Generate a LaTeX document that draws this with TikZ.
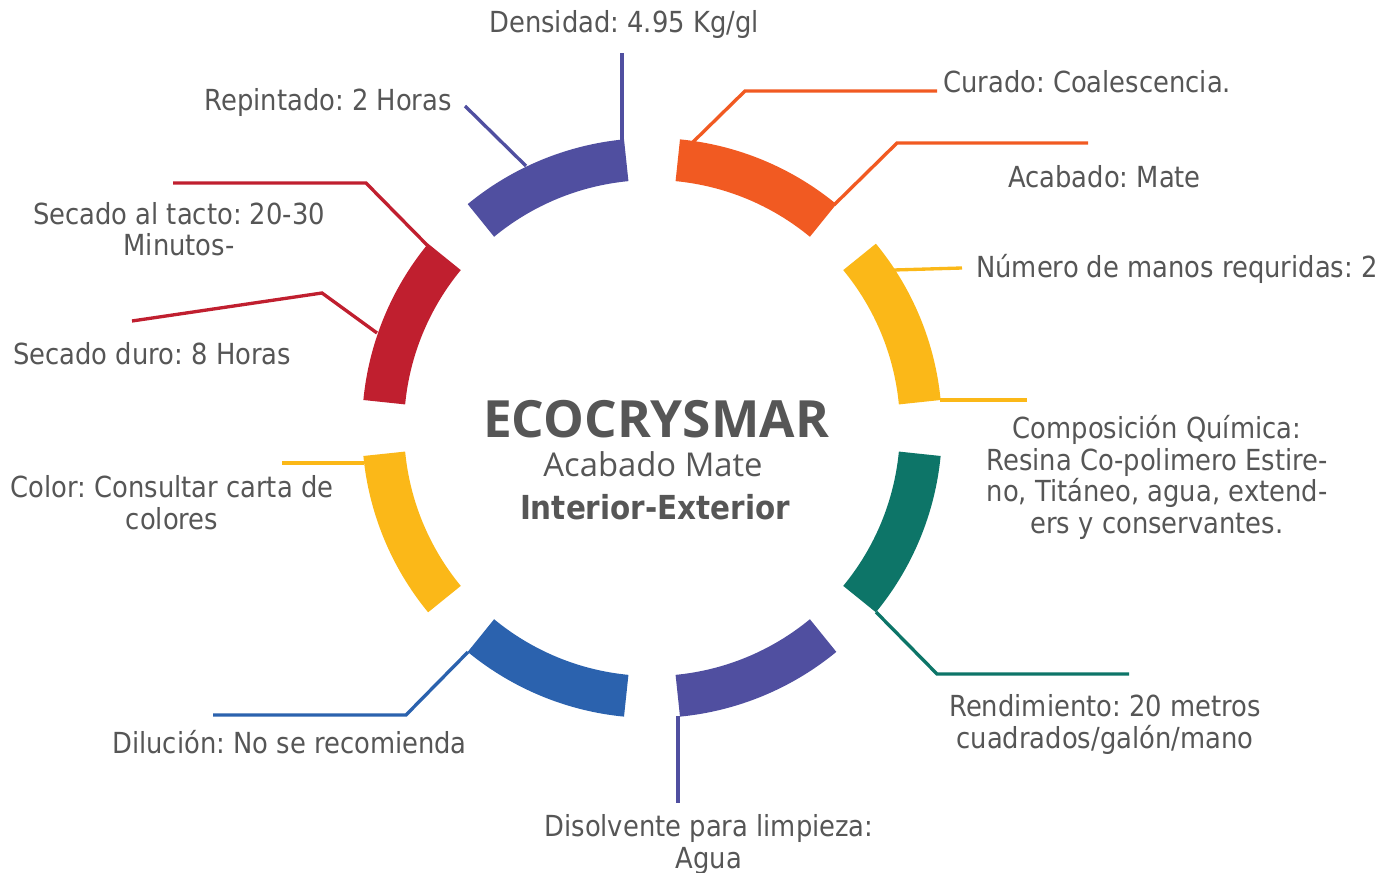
\documentclass[tikz,border=0pt]{standalone}
\usepackage{fontspec}
\setmainfont{DejaVu Sans}[FakeStretch=0.89]
\newfontfamily\titlefont{Open Sans}
\usetikzlibrary{positioning}
\frenchspacing

\definecolor{cPurple}{HTML}{504FA0}
\definecolor{cOrange}{HTML}{F15A22}
\definecolor{cYellow}{HTML}{FBB818}
\definecolor{cTeal}{HTML}{0D7568}
\definecolor{cBlue}{HTML}{2B62AE}
\definecolor{cRed}{HTML}{C01F2F}
\definecolor{cText}{HTML}{565656}

\newcommand\lblfont{\fontsize{21.75}{23.6}\selectfont}

\tikzset{
  lbl/.style={font=\lblfont, text=cText, inner sep=0pt},
  lead/.style={line width=2.5pt},
  seg/.style={line width=31.5pt},
}

\begin{document}
\begin{tikzpicture}[x=0.75pt,y=-0.75pt]
\useasboundingbox (0,0) rectangle (1393,873);

% ring of eight coloured segments
\coordinate (c) at (652,428);
\begin{scope}[shift={(c)}]
\foreach \ang/\col in {-22.5/cYellow, -67.5/cOrange, -112.5/cPurple, -157.5/cRed,
                       -202.5/cYellow, -247.5/cBlue, -292.5/cPurple, -337.5/cTeal}
  \draw[seg, \col] (\ang-17:269) arc[start angle=\ang-17, end angle=\ang+17, radius=269];
\end{scope}

% centre
\node[font=\titlefont\bfseries\fontsize{38.5}{40}\selectfont, text=cText, anchor=base, inner sep=0pt] (title) at (656,438) {ECOCRYSMAR};
\node[font=\titlefont\fontsize{24.6}{26}\selectfont, text=cText, anchor=base, inner sep=0pt] (sub) at (653,477) {Acabado Mate};
\node[font=\bfseries\fontsize{24.8}{26}\selectfont, text=cText, anchor=base, inner sep=0pt] (use) at (655,520) {Interior-Exterior};

% labels (multi-line ones placed by their last line)
\node[lbl, anchor=base] (den) at (624,33) {Densidad: 4.95 Kg/gl};
\node[lbl, anchor=base east] (rep) at (452,111) {Repintado: 2 Horas};
\node[lbl, anchor=base west] (cur) at (943,93) {Curado: Coalescencia.};
\node[lbl, anchor=base west] (aca) at (1008,188) {Acabado: Mate};
\node[lbl, anchor=base west] (num) at (976,278) {Número de manos requridas: 2};
\node[lbl, anchor=base, align=center] (comp) at (1157,533)
  {Composición Química:\\Resina Co-polimero Estire-\\no, Titáneo, agua, extend-\\ers y conservantes.};
\node[lbl, anchor=base, align=center] (ren) at (1105,748) {Rendimiento: 20 metros\\cuadrados/galón/mano};
\node[lbl, anchor=base, align=center] (dis) at (709,868) {Disolvente para limpieza:\\Agua};
\node[lbl, anchor=base east] (dil) at (467,753) {Dilución: No se recomienda};
\node[lbl, anchor=base, align=center] (col) at (172,529) {Color: Consultar carta de\\colores};
\node[lbl, anchor=base west] (sdu) at (13,365) {Secado duro: 8 Horas};
\node[lbl, anchor=base, align=center] (sta) at (179,256) {Secado al tacto: 20-30\\Minutos-};

% leader lines
\coordinate (den-a) at (622,141); \coordinate (den-b) at (622,53);
\coordinate (rep-a) at (526,166); \coordinate (rep-b) at (465,106);
\coordinate (cur-a) at (693,142); \coordinate (cur-k) at (745,91);  \coordinate (cur-b) at (937,91);
\coordinate (aca-a) at (834,205); \coordinate (aca-k) at (897,143); \coordinate (aca-b) at (1088,143);
\coordinate (num-a) at (894,270); \coordinate (num-b) at (962,268);
\coordinate (comp-a) at (940,400); \coordinate (comp-b) at (1027,400);
\coordinate (ren-a) at (876,612); \coordinate (ren-k) at (937,674); \coordinate (ren-b) at (1129,674);
\coordinate (dis-a) at (678,716); \coordinate (dis-b) at (678,803);
\coordinate (dil-a) at (468,652); \coordinate (dil-k) at (406,715); \coordinate (dil-b) at (213,715);
\coordinate (col-a) at (364,463); \coordinate (col-b) at (282,463);
\coordinate (sdu-a) at (377,333); \coordinate (sdu-k) at (322,293); \coordinate (sdu-b) at (132,321);
\coordinate (sta-a) at (428,246); \coordinate (sta-k) at (366,183); \coordinate (sta-b) at (173,183);

\draw[lead, cPurple] (den-a) -- (den-b);
\draw[lead, cPurple] (rep-a) -- (rep-b);
\draw[lead, cOrange] (cur-a) -- (cur-k) -- (cur-b);
\draw[lead, cOrange] (aca-a) -- (aca-k) -- (aca-b);
\draw[lead, cYellow] (num-a) -- (num-b);
\draw[lead, cYellow] (comp-a) -- (comp-b);
\draw[lead, cTeal] (ren-a) -- (ren-k) -- (ren-b);
\draw[lead, cPurple] (dis-a) -- (dis-b);
\draw[lead, cBlue] (dil-a) -- (dil-k) -- (dil-b);
\draw[lead, cYellow] (col-a) -- (col-b);
\draw[lead, cRed] (sdu-a) -- (sdu-k) -- (sdu-b);
\draw[lead, cRed] (sta-a) -- (sta-k) -- (sta-b);
\end{tikzpicture}
\end{document}
